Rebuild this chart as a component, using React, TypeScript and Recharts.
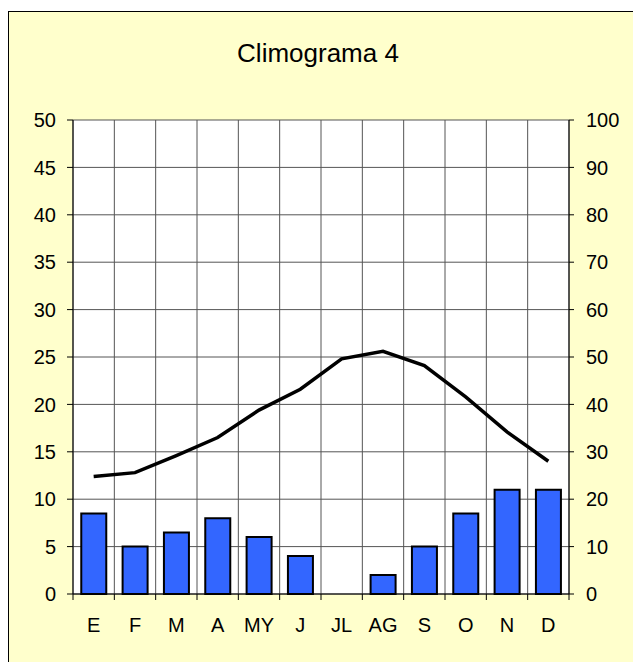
import React from 'react';
import {
  ComposedChart,
  Bar,
  Line,
  XAxis,
  YAxis,
  CartesianGrid,
} from 'recharts';

const months = ['E', 'F', 'M', 'A', 'MY', 'J', 'JL', 'AG', 'S', 'O', 'N', 'D'];
// temperatura (eje izquierdo, ºC)
const temperature = [12.4, 12.8, 14.6, 16.5, 19.4, 21.6, 24.8, 25.6, 24.1, 20.8, 17.1, 14.0];
// precipitación (eje derecho, mm)
const rainfall = [17, 10, 13, 16, 12, 8, 0, 4, 10, 17, 22, 22];

const leftTicks = [0, 5, 10, 15, 20, 25, 30, 35, 40, 45, 50];
const rightTicks = [0, 10, 20, 30, 40, 50, 60, 70, 80, 90, 100];

const data = months.map((m, i) => ({
  month: m,
  temp: temperature[i],
  rain: rainfall[i],
}));

const tickStyle = { fill: '#000', fontSize: 20 };
const X_TICK_SIZE = 6;
const X_TICK_MARGIN = 18;

// etiqueta del mes + marca en el límite entre categorías
const MonthTick = (props: any) => {
  const { x, y, payload, index } = props;
  const half = payload && payload.offset ? payload.offset : 0;
  const axisY = y - X_TICK_SIZE - X_TICK_MARGIN;
  return (
    <g>
      <line x1={x - half} x2={x - half} y1={axisY} y2={axisY + X_TICK_SIZE} stroke="#000" />
      {index === months.length - 1 && (
        <line x1={x + half} x2={x + half} y1={axisY} y2={axisY + X_TICK_SIZE} stroke="#000" />
      )}
      <text x={x} y={y} dy="0.71em" textAnchor="middle" fill="#000" fontSize={20}>
        {payload.value}
      </text>
    </g>
  );
};

// líneas verticales de la rejilla en los límites de cada mes
const monthBoundaries = ({ offset }: any) => {
  const step = offset.width / months.length;
  return [...months.map((_, i) => offset.left + i * step), offset.left + offset.width];
};

const App: React.FC = () => {
  return (
    <div
      style={{
        position: 'absolute',
        left: 8,
        top: 11,
        width: 625,
        height: 651,
        boxSizing: 'border-box',
        background: '#FFFFCC',
        borderTop: '1px solid #000',
        borderLeft: '1px solid #000',
        fontFamily: '"Liberation Sans", Arial, sans-serif',
        overflow: 'hidden',
      }}
    >
      <div
        style={{
          position: 'absolute',
          left: 0,
          top: 28,
          width: 618,
          textAlign: 'center',
          fontSize: 26,
          lineHeight: '26px',
          color: '#000',
        }}
      >
        Climograma 4
      </div>
      <ComposedChart
        width={624}
        height={650}
        data={data}
        margin={{ top: 108, right: 4, bottom: 38, left: 4 }}
        barCategoryGap="20%"
      >
        <CartesianGrid
          stroke="#555"
          fill="#fff"
          fillOpacity={1}
          yAxisId="left"
          verticalCoordinatesGenerator={monthBoundaries}
        />
        <XAxis
          dataKey="month"
          height={30}
          stroke="#000"
          tickLine={false}
          tickSize={X_TICK_SIZE}
          tickMargin={X_TICK_MARGIN}
          tick={<MonthTick />}
          interval={0}
        />
        <YAxis
          yAxisId="left"
          domain={[0, 50]}
          ticks={leftTicks}
          width={60}
          tickSize={6}
          tickMargin={11}
          tick={tickStyle}
          stroke="#000"
          interval={0}
        />
        <YAxis
          yAxisId="right"
          orientation="right"
          domain={[0, 100]}
          ticks={rightTicks}
          width={60}
          tickSize={5}
          tickMargin={12}
          tick={tickStyle}
          stroke="#000"
          interval={0}
        />
        <Bar
          yAxisId="right"
          dataKey="rain"
          fill="#3366FF"
          stroke="#000"
          strokeWidth={2}
          isAnimationActive={false}
        />
        <Line
          yAxisId="left"
          dataKey="temp"
          type="linear"
          stroke="#000"
          strokeWidth={3.5}
          dot={false}
          isAnimationActive={false}
        />
      </ComposedChart>
    </div>
  );
};

export default App;
